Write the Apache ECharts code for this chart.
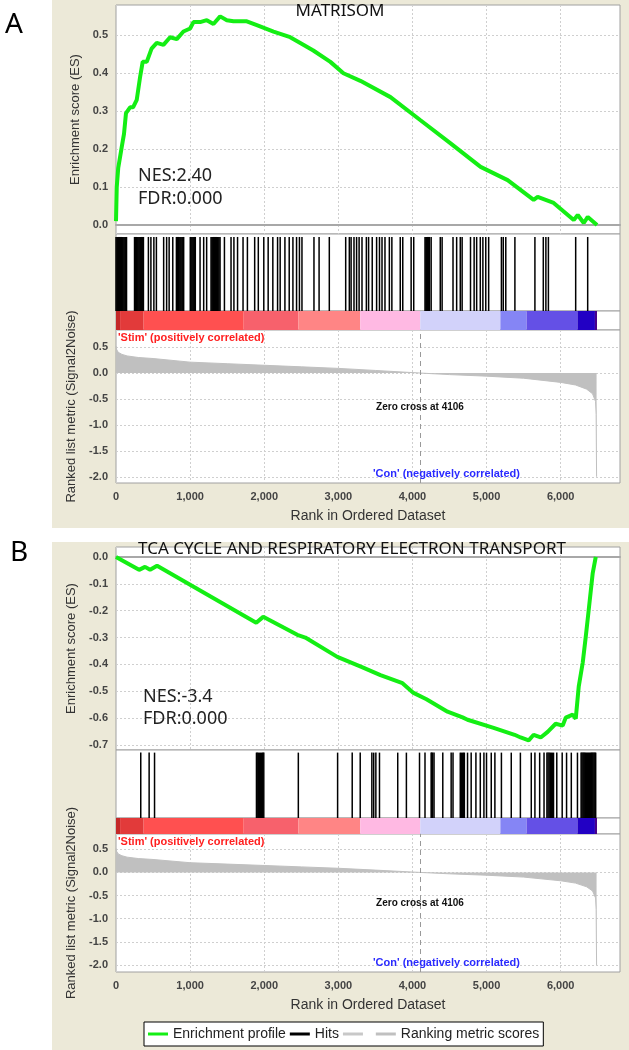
<!DOCTYPE html>
<html>
<head>
<meta charset="utf-8">
<script src="https://cdn.jsdelivr.net/npm/echarts@6/dist/echarts.min.js"></script>
<style>
html, body { margin: 0; padding: 0; background: #fff; }
#chart { width: 629px; height: 1050px; }
</style>
</head>
<body>
<div id="chart"></div>
<script>
// tick labels
var rankTicks = [0, 1000, 2000, 3000, 4000, 5000, 6000];
var esTicksA = [0, 0.1, 0.2, 0.3, 0.4, 0.5];
var esTicksB = [0, -0.1, -0.2, -0.3, -0.4, -0.5, -0.6, -0.7];
var metricTicks = [0.5, 0, -0.5, -1, -1.5, -2];

// A: MATRISOM running enrichment score
var esRankA = [0, 10, 30, 77, 108, 135, 190, 230, 280, 325, 360, 415, 480, 550, 640, 730, 820, 910, 1000, 1045, 1135, 1225, 1315, 1405, 1495, 1585, 1765, 1900, 2125, 2350, 2486, 2662, 2892, 3068, 3297, 3703, 4108, 4514, 4919, 5284, 5635, 5689, 5905, 6176, 6230, 6311, 6365, 6490];
var esScoreA = [0.01, 0.10, 0.15, 0.205, 0.24, 0.295, 0.31, 0.31, 0.33, 0.39, 0.43, 0.43, 0.465, 0.48, 0.475, 0.495, 0.49, 0.51, 0.518, 0.535, 0.535, 0.54, 0.53, 0.55, 0.54, 0.537, 0.537, 0.527, 0.51, 0.495, 0.48, 0.46, 0.43, 0.40, 0.38, 0.337, 0.276, 0.215, 0.153, 0.118, 0.066, 0.074, 0.058, 0.013, 0.026, 0.005, 0.021, 0.0];

// B: TCA cycle running enrichment score
var esRankB = [0, 311, 392, 460, 554, 1892, 1986, 2446, 2554, 2986, 3311, 3568, 3865, 4014, 4189, 4473, 4676, 4743, 5095, 5378, 5459, 5568, 5635, 5730, 5824, 5932, 6027, 6068, 6162, 6203, 6243, 6297, 6338, 6378, 6432, 6473];
var esScoreB = [0, -0.048, -0.037, -0.048, -0.033, -0.245, -0.223, -0.29, -0.30, -0.372, -0.409, -0.44, -0.47, -0.506, -0.53, -0.576, -0.597, -0.606, -0.636, -0.662, -0.672, -0.683, -0.662, -0.672, -0.651, -0.621, -0.628, -0.598, -0.587, -0.602, -0.483, -0.394, -0.297, -0.197, -0.06, 0.0];

// gene set hits (rank positions)
var hitsA = [0, 12, 24, 36, 48, 60, 72, 84, 96, 108, 120, 132, 142,
  250, 262, 274, 286, 298, 310, 322, 334, 346, 358, 370,
  437, 471, 511, 545, 643, 683, 717, 766,
  815, 827, 840, 852, 865, 877, 890, 902, 913,
  1002, 1014, 1026, 1038, 1050, 1062, 1070, 1134, 1183, 1223,
  1282, 1294, 1306, 1318, 1330, 1342, 1354, 1366, 1378, 1390, 1404,
  1463, 1552, 1591, 1640, 1714, 1773, 1871, 1920, 1994, 2053, 2116, 2180, 2215, 2279, 2337, 2387, 2436, 2475, 2509, 2671, 2740, 2878,
  3099, 3148, 3172, 3211, 3246, 3280, 3319, 3378, 3408, 3457, 3516, 3555, 3589, 3629, 3688, 3722, 3835, 3869, 3982, 4017,
  4169, 4181, 4193, 4205, 4217, 4228, 4252, 4375, 4400, 4547, 4596, 4645, 4670, 4783, 4832, 4866, 4915, 4950, 4989, 5028,
  5200, 5225, 5259, 5382, 5652, 5765, 5800, 5834, 6202, 6364];
var hitsB = [334, 447, 520,
  1895, 1905, 1920, 1935, 1950, 1965, 1980, 1994,
  2460, 2990, 3187, 3295, 3452, 3477, 3506, 3555, 3801, 3918, 4095, 4169, 4252, 4262, 4272, 4291, 4409, 4522, 4547,
  4645, 4660, 4675, 4690, 4700, 4743, 4792, 4856, 4915, 4964, 4999, 5063, 5112, 5200, 5333, 5456, 5603, 5652, 5716, 5775,
  5814, 5829, 5844, 5859, 5873, 5888, 5903, 5947, 6020, 6079, 6143, 6226,
  6275, 6287, 6300, 6312, 6325, 6337, 6350, 6362, 6375, 6387, 6400, 6412, 6425, 6437, 6450, 6462, 6472];

// ranked list metric (Signal2Noise)
var metricRank = [0, 10, 30, 80, 150, 300, 500, 1000, 1500, 2000, 2500, 3000, 3500, 4106, 4500, 5000, 5500, 6000, 6200, 6350, 6430, 6470, 6478, 6484];
var metricScore = [0.52, 0.45, 0.40, 0.36, 0.33, 0.30, 0.28, 0.21, 0.18, 0.15, 0.12, 0.09, 0.05, 0.0, -0.03, -0.06, -0.10, -0.18, -0.23, -0.31, -0.40, -0.55, -0.8, -2.0];
var zeroCross = 4106;

// colour bar bands (rank edges)
var bandEdges = [0, 55, 373, 1723, 2460, 3295, 4105, 5186, 5540, 6226, 6462, 6490];
var bandColors = ['#c42828', '#e23a3a', '#ff5050', '#f7616c', '#ff8585', '#ffb9e3', '#d2d2fa', '#8585f5', '#6450e6', '#2200c4', '#48008a'];

function pairs(xs, ys) { return xs.map(function (x, i) { return [x, ys[i]]; }); }
var bands = bandColors.map(function (c, i) { return [bandEdges[i], bandEdges[i + 1], i]; });

var FONT = 'Liberation Sans';
var gridLine = { show: true, lineStyle: { color: '#cfcfcf', type: [2, 2], width: 1 } };
var boxGrid = { show: true, backgroundColor: '#fff', borderColor: '#a0a0a0', borderWidth: 1, left: 116, right: 9 };

function grid(top, height) { return Object.assign({ top: top, height: height }, boxGrid); }

function xAx(gi, withLabels, withSplit) {
    var ax = {
        gridIndex: gi, type: 'value', min: 0, max: 6800,
        axisLine: { show: false }, axisTick: { show: false, customValues: rankTicks },
        axisLabel: { show: withLabels, customValues: rankTicks, color: '#444', fontWeight: 'bold', fontSize: 11, fontFamily: FONT, margin: 8,
            formatter: function (v) { return v.toLocaleString('en-US'); } },
        splitLine: withSplit ? gridLine : { show: false }
    };
    if (withLabels) {
        ax.name = 'Rank in Ordered Dataset';
        ax.nameLocation = 'middle';
        ax.nameGap = 26;
        ax.nameTextStyle = { color: '#333', fontSize: 14, fontFamily: FONT };
    }
    return ax;
}
function yAx(gi, min, max, ticks, name) {
    if (!ticks) {
        return { gridIndex: gi, type: 'value', min: min, max: max, show: false, splitLine: { show: false } };
    }
    return {
        gridIndex: gi, type: 'value', min: min, max: max,
        name: name, nameLocation: 'middle', nameGap: 33,
        nameTextStyle: { color: '#333', fontSize: 13, fontFamily: FONT },
        axisLine: { show: false },
        axisTick: { show: false, customValues: ticks },
        axisLabel: { customValues: ticks, color: '#444', fontWeight: 'bold', fontSize: 11, fontFamily: FONT, margin: 8,
            formatter: function (v) { return (Math.abs(v) < 1e-9 ? 0 : v).toFixed(1); } },
        splitLine: gridLine
    };
}

function esX(gi) {
    var ax = xAx(gi, false, true);
    ax.axisLine = { show: true, onZero: true, lineStyle: { color: '#a8a8a8', width: 2 } };
    return ax;
}

function hitRender(params, api) {
    var a = api.coord([api.value(0), 1]);
    var b = api.coord([api.value(0), 0]);
    return { type: 'line', shape: { x1: a[0], y1: a[1], x2: b[0], y2: b[1] }, style: { stroke: '#000', lineWidth: 1.5 } };
}
function bandRender(params, api) {
    var a = api.coord([api.value(0), 1]);
    var b = api.coord([api.value(1), 0]);
    return { type: 'rect', shape: { x: a[0], y: a[1], width: b[0] - a[0], height: b[1] - a[1] }, style: { fill: bandColors[api.value(2)] } };
}

function panelSeries(off, esData, hits) {
    return [
        { name: 'Enrichment profile', type: 'line', xAxisIndex: off, yAxisIndex: off, data: esData,
          symbol: 'none', lineStyle: { color: '#14ee14', width: 4 }, itemStyle: { color: '#14ee14' }, z: 5 },
        { name: 'Hits', type: 'custom', xAxisIndex: off + 1, yAxisIndex: off + 1, data: hits.map(function (r) { return [r, 0]; }),
          renderItem: hitRender, itemStyle: { color: '#000' } },
        { name: 'colorBar', type: 'custom', xAxisIndex: off + 2, yAxisIndex: off + 2, data: bands, renderItem: bandRender },
        { name: 'Ranking metric scores', type: 'line', xAxisIndex: off + 3, yAxisIndex: off + 3, data: pairs(metricRank, metricScore),
          symbol: 'none', lineStyle: { color: '#c0c0c0', width: 1 }, itemStyle: { color: '#c0c0c0' },
          areaStyle: { color: '#c0c0c0', opacity: 1 } },
        { name: '\u00a0', type: 'line', xAxisIndex: off + 3, yAxisIndex: off + 3, data: [],
          itemStyle: { color: '#c8c8c8' }, lineStyle: { color: '#c8c8c8' },
          markLine: { silent: true, symbol: 'none', label: { show: false },
                      lineStyle: { color: '#999', type: [5, 4], width: 1 }, data: [{ xAxis: zeroCross }] } }
    ];
}

function txt(x, y, s, font, fill, align) {
    return { type: 'text', x: x, y: y, z: 100, style: { text: s, font: font, fill: fill, align: align || 'left', verticalAlign: 'middle' } };
}
var title = '17px "Noto Sans"';
var big = '18px "Noto Sans"';
var small = 'bold 11px "Liberation Sans"';
var tiny = 'bold 10px "Liberation Sans"';

var option = {
    animation: false,
    textStyle: { fontFamily: FONT },
    grid: [grid(5, 229), grid(234, 77), grid(311, 19), grid(330, 153),
           grid(547, 203), grid(750, 68), grid(818, 16), grid(834, 138)],
    xAxis: [esX(0), xAx(1, false, false), xAx(2, false, false), xAx(3, true, true),
            esX(4), xAx(5, false, false), xAx(6, false, false), xAx(7, true, true)],
    yAxis: [yAx(0, -0.024, 0.58, esTicksA, 'Enrichment score (ES)'),
            yAx(1, 0, 1.04), yAx(2, 0, 1),
            yAx(3, -2.12, 0.83, metricTicks, 'Ranked list metric (Signal2Noise)'),
            yAx(4, -0.7186, 0.037, esTicksB, 'Enrichment score (ES)'),
            yAx(5, 0, 1.04), yAx(6, 0, 1),
            yAx(7, -2.15, 0.83, metricTicks, 'Ranked list metric (Signal2Noise)')],
    legend: {
        left: 144, top: 1022, orient: 'horizontal',
        data: [{ name: 'Enrichment profile', icon: 'rect' }, { name: 'Hits', icon: 'rect' },
               { name: '\u00a0', icon: 'rect' }, { name: 'Ranking metric scores', icon: 'rect' }],
        itemWidth: 20, itemHeight: 3, itemGap: 4,
        backgroundColor: '#fff', borderColor: '#000', borderWidth: 1, padding: [5, 4],
        textStyle: { fontSize: 14, color: '#222', fontFamily: FONT }
    },
    graphic: [
        { type: 'rect', z: -10, shape: { x: 52, y: 0, width: 577, height: 528 }, style: { fill: '#ece9d8' } },
        { type: 'rect', z: -10, shape: { x: 52, y: 542, width: 577, height: 508 }, style: { fill: '#ece9d8' } },
        txt(5, 25, 'A', '28px "Noto Sans"', '#000'),
        txt(10, 553, 'B', '28px "Noto Sans"', '#000'),
        txt(340, 11, 'MATRISOM', title, '#111', 'center'),
        txt(352, 549, 'TCA CYCLE AND RESPIRATORY ELECTRON TRANSPORT', title, '#111', 'center'),
        txt(138, 176, 'NES:2.40', big, '#222'),
        txt(138, 199, 'FDR:0.000', big, '#222'),
        txt(143, 697, 'NES:-3.4', big, '#222'),
        txt(143, 719, 'FDR:0.000', big, '#222'),
        txt(118, 338, "'Stim' (positively correlated)", small, '#ff2020'),
        txt(118, 842, "'Stim' (positively correlated)", small, '#ff2020'),
        txt(420, 407, 'Zero cross at 4106', tiny, '#111', 'center'),
        txt(420, 903, 'Zero cross at 4106', tiny, '#111', 'center'),
        txt(520, 474, "'Con' (negatively correlated)", small, '#2a2aff', 'right'),
        txt(520, 963, "'Con' (negatively correlated)", small, '#2a2aff', 'right')
    ],
    series: panelSeries(0, pairs(esRankA, esScoreA), hitsA).concat(panelSeries(4, pairs(esRankB, esScoreB), hitsB))
};

var myChart = echarts.init(document.getElementById('chart'));
myChart.setOption(option);
</script>
</body>
</html>
